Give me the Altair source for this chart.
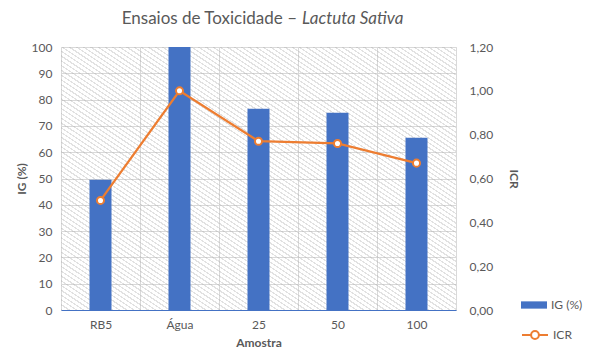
import altair as alt
import pandas as pd

categories = ["RB5", "Água", "25", "50", "100"]
ig_values = [49.5, 100, 76.5, 75, 65.5]
icr_values = [0.50, 1.00, 0.77, 0.76, 0.67]

df = pd.DataFrame({"Amostra": categories, "IG": ig_values, "ICR": icr_values,
                   "s1": "IG (%)", "s2": "ICR"})
one = pd.DataFrame({"a": [0]})

W, H = 395, 263
GRAY = "#595959"
FONT = "Lato"
BLUE = "#4472C4"
ORANGE = "#ED7D31"

# diagonal hatch for the plot background
stops = []
n = 110
for i in range(n):
    a = i / n
    b = (i + 0.3) / n
    c = (i + 1) / n
    stops += [
        alt.GradientStop(offset=a, color="rgba(170,170,170,0.35)"),
        alt.GradientStop(offset=b, color="rgba(170,170,170,0.35)"),
        alt.GradientStop(offset=b, color="rgba(255,255,255,0)"),
        alt.GradientStop(offset=c, color="rgba(255,255,255,0)"),
    ]
hatch = alt.LinearGradient(gradient="linear", stops=stops, x1=0, y1=1, x2=1, y2=0)

bg = alt.Chart(one).mark_rect(fill=hatch).encode(
    x=alt.value(0), x2=alt.value(W), y=alt.value(0), y2=alt.value(H)
)

xenc = alt.X(
    "Amostra:N", sort=categories,
    scale=alt.Scale(paddingInner=0, paddingOuter=0),
    axis=alt.Axis(title="Amostra", tickBand="extent", grid=True, gridColor="#d9d9d9",
                  ticks=False, domainColor=BLUE, domainWidth=1, labelAngle=0,
                  labelPadding=9, titlePadding=7, labelFontSize=12, titleFontSize=12,
                  labelColor=GRAY, titleColor=GRAY, titleFontWeight="bold",
                  labelFont=FONT, titleFont=FONT),
)

bars = alt.Chart(df).mark_bar(size=22).encode(
    x=xenc,
    y=alt.Y("IG:Q", scale=alt.Scale(domain=[0, 100], nice=False),
            axis=alt.Axis(values=list(range(0, 101, 10)), title="IG (%)", grid=True,
                          gridColor="#d9d9d9", ticks=False, domain=False,
                          labelPadding=9, titlePadding=3, labelFontSize=12,
                          titleFontSize=12, labelColor=GRAY, titleColor=GRAY,
                          titleFontWeight="bold", labelFont=FONT, titleFont=FONT)),
    color=alt.Color("s1:N", scale=alt.Scale(range=[BLUE]),
                    legend=alt.Legend(title=None, orient="none", legendX=460, legendY=245,
                                      symbolType="M-1,-0.28H1V0.28H-1Z", symbolSize=676,
                                      symbolStrokeWidth=0, labelFontSize=12, labelColor=GRAY,
                                      labelFont=FONT, labelOffset=4, padding=0)),
)

line = alt.Chart(df).mark_line(
    strokeWidth=2.25,
    point=alt.OverlayMarkDef(filled=True, fill="white", stroke=ORANGE, strokeWidth=2, size=50),
).encode(
    x=alt.X("Amostra:N", sort=categories),
    y=alt.Y("ICR:Q", scale=alt.Scale(domain=[0, 1.2], nice=False),
            axis=alt.Axis(orient="right", values=[0, 0.2, 0.4, 0.6, 0.8, 1.0, 1.2],
                          labelExpr="replace(format(datum.value, '.2f'), '.', ',')",
                          title="ICR", grid=False, ticks=False, domain=False,
                          labelPadding=13, titlePadding=14, labelFontSize=12,
                          titleFontSize=12, labelColor=GRAY, titleColor=GRAY,
                          titleFontWeight="bold", labelFont=FONT, titleFont=FONT)),
    stroke=alt.Stroke("s2:N", scale=alt.Scale(range=[ORANGE]),
                      legend=alt.Legend(title=None, orient="none", legendX=460, legendY=274,
                                        symbolType="M-1,0H-0.3M0.3,0H1M0.3,0A0.3,0.3 0 1,1 -0.3,0A0.3,0.3 0 1,1 0.3,0",
                                        symbolSize=676, symbolStrokeWidth=2,
                                        symbolFillColor="white", labelFontSize=12,
                                        labelColor=GRAY, labelFont=FONT, labelOffset=4,
                                        padding=0)),
)

title1 = alt.Chart(one).mark_text(
    text="Ensaios de Toxicidade –", align="right", baseline="middle",
    font=FONT, fontSize=17, color=GRAY
).encode(x=alt.value(236), y=alt.value(-28))
title2 = alt.Chart(one).mark_text(
    text="Lactuta Sativa", align="left", baseline="middle",
    font=FONT, fontSize=17, fontStyle="italic", color=GRAY
).encode(x=alt.value(241), y=alt.value(-28))

chart = alt.layer(bg, bars, line, title1, title2).resolve_scale(
    y="independent", color="independent", stroke="independent"
).properties(
    width=W, height=H, autosize=alt.AutoSizeParams(type="none"),
    padding={"left": 53, "top": 39, "right": 127, "bottom": 45},
).configure_view(stroke=None).configure(background="white")

chart.save("out.html", embed_options={"renderer": "svg", "actions": False})
